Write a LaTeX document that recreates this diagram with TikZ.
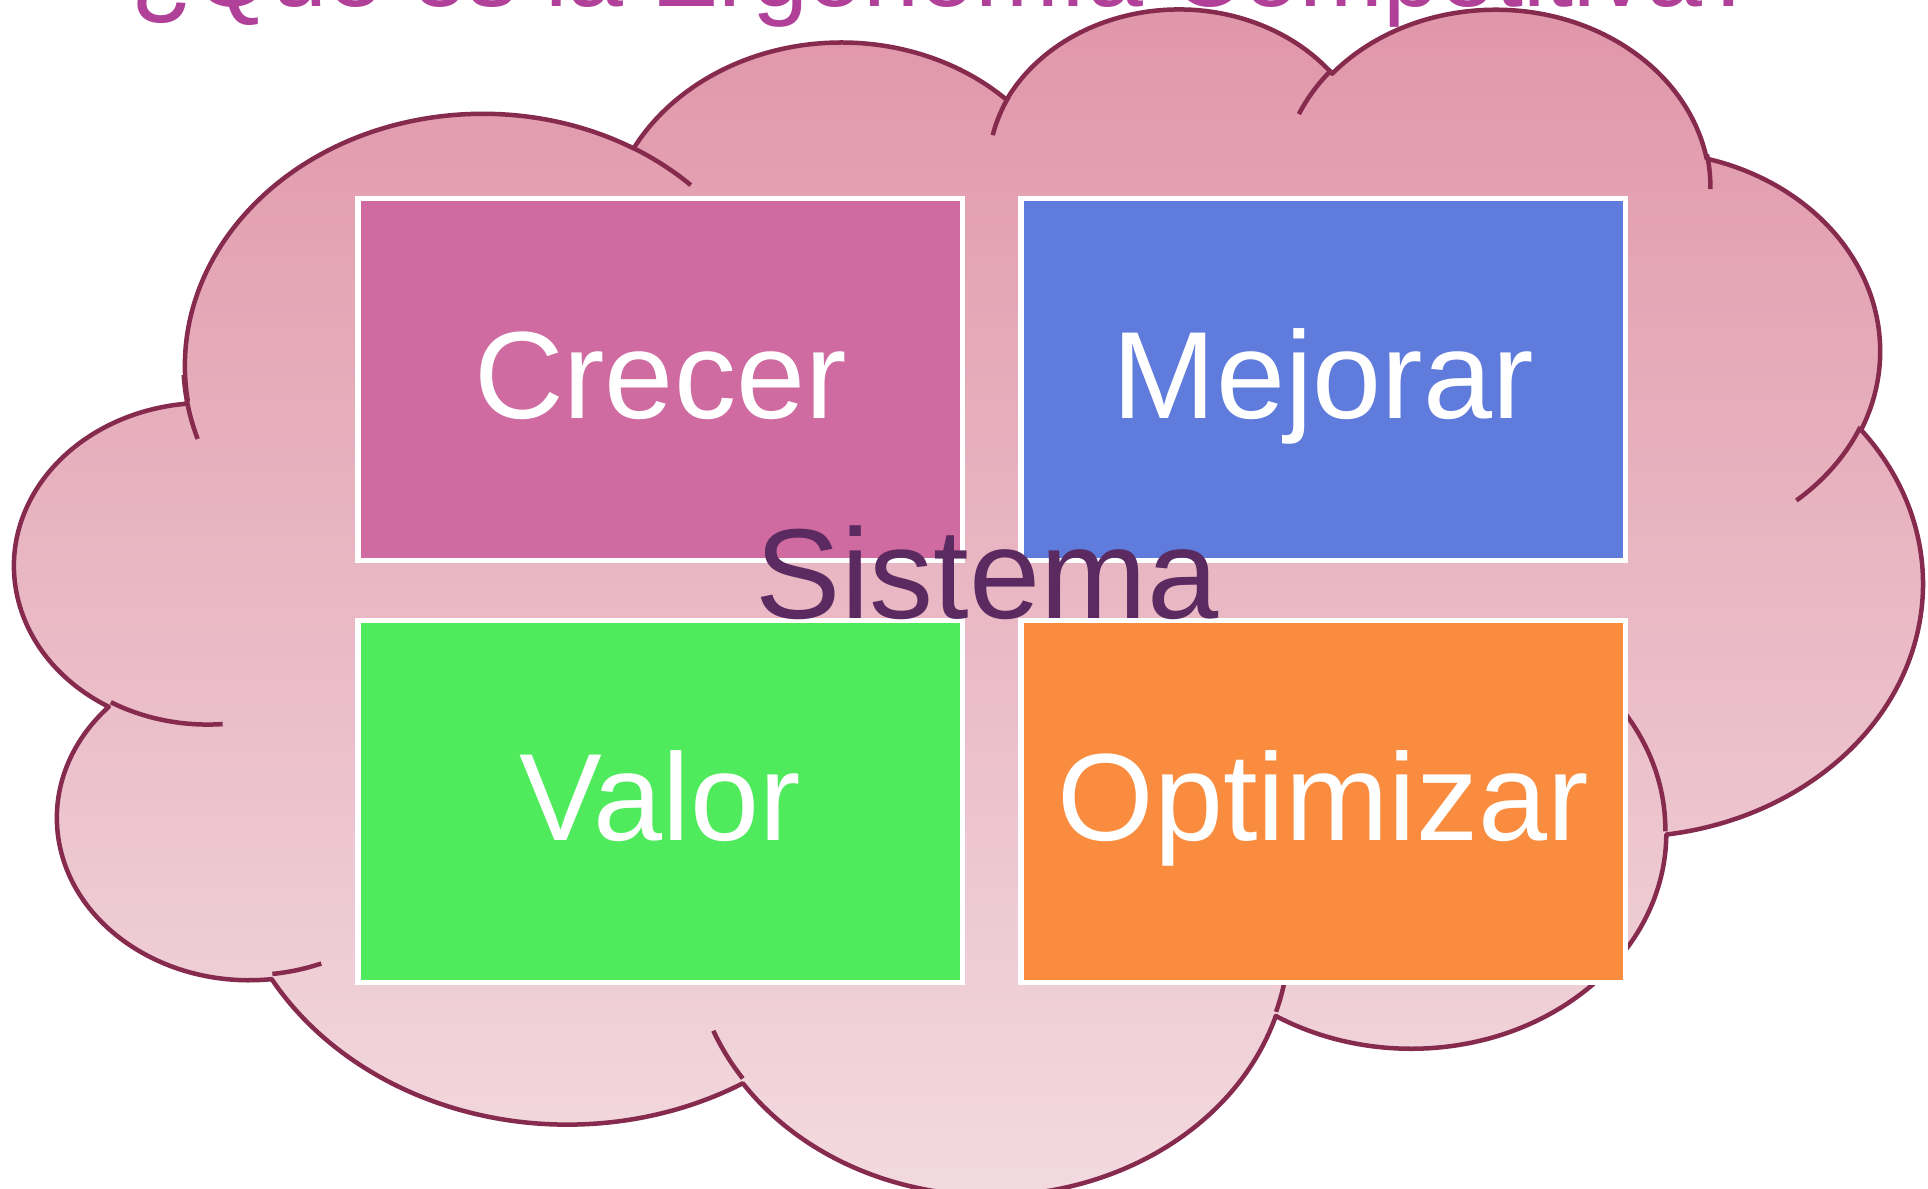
\documentclass[tikz,border=0pt]{standalone}
\usepackage{fontspec}
\setmainfont{Liberation Sans}
\definecolor{cloudline}{RGB}{134,42,78}
\definecolor{cloudtop}{RGB}{224,149,168}
\definecolor{cloudbot}{RGB}{243,220,225}
\definecolor{crecerc}{RGB}{207,107,161}
\definecolor{mejorarc}{RGB}{95,123,220}
\definecolor{valorc}{RGB}{79,235,92}
\definecolor{optimc}{RGB}{249,140,62}
\definecolor{sistc}{RGB}{90,42,96}
\definecolor{titlec}{RGB}{176,64,152}
% DrawingML arcTo: visual angles converted to ellipse parameter angles
\newcommand\ooarc[4]{%
  \pgfmathsetmacro\oaA{atan2(#1*sin(#3),#2*cos(#3))}%
  \pgfmathsetmacro\oaB{atan2(#1*sin(#3+#4),#2*cos(#3+#4))}%
  \pgfmathsetmacro\oaD{mod(\oaB-\oaA+720,360)}%
}
\newcommand\oarc[4]{\pgfextra{\ooarc{#1}{#2}{#3}{#4}} arc[start angle=\oaA, delta angle=\oaD, x radius=#1, y radius=#2]}
\tikzset{
  cloudstroke/.style={draw=cloudline, line width=0.045cm},
  box/.style={draw=white, line width=0.055cm, minimum width=6.04cm, minimum height=3.615cm,
    inner sep=0pt, text=white, font=\fontsize{35.3}{40}\selectfont, text height=0.77cm, text depth=0cm},
}
\begin{document}
\begin{tikzpicture}[x=0.01cm, y=-0.01cm]
\useasboundingbox (0,0) rectangle (1928,1189);
\clip (0,0) rectangle (1928,1189);
\fill[white] (0,0) rectangle (1928,1189);

\begin{scope}[shift={(0.155cm,-0.056cm)}, x=0.4411cm, y=-0.2743cm]
\path[cloudstroke, line join=round, top color=cloudtop, bottom color=cloudbot]
  (3.900,14.370)
  \oarc{6.753}{9.190}{-190.48748}{123.78053}
  \oarc{5.333}{7.267}{-144.10238}{89.94523}
  \oarc{4.365}{5.945}{-145.80792}{99.72302}
  \oarc{4.857}{6.595}{-130.98607}{117.24173}
  \oarc{5.333}{7.273}{-78.70888}{109.02692}
  \oarc{6.775}{9.220}{-46.26725}{130.26900}
  \oarc{5.785}{7.867}{0.62502}{114.03333}
  \oarc{6.752}{9.215}{22.45160}{115.17255}
  \oarc{7.720}{10.543}{66.24263}{75.71102}
  \oarc{4.360}{5.918}{-274.94208}{146.73557}
  \oarc{4.345}{5.945}{-246.82850}{152.51885}
  -- cycle;
\path[cloudstroke]
  (4.693,26.177) \oarc{4.345}{5.945}{86.74200}{26.42950}
  (6.928,34.899) \oarc{4.360}{5.918}{73.61047}{11.44747}
  (16.478,39.090) \oarc{6.752}{9.215}{137.62415}{14.08110}
  (28.827,34.751) \oarc{6.752}{9.215}{6.45327}{15.99835}
  (34.129,22.954) \oarc{5.785}{7.867}{-70.29235}{70.91737}
  (41.798,15.354) \oarc{5.333}{7.273}{30.31803}{27.75150}
  (38.324,5.426) \oarc{4.857}{6.595}{-13.74433}{14.85890}
  (29.078,3.952) \oarc{4.857}{6.595}{-149.18145}{18.19692}
  (22.141,4.720) \oarc{4.365}{5.945}{-163.49427}{17.68635}
  (14.000,5.192) \oarc{6.753}{9.190}{-66.70695}{12.31935}
  (4.127,15.789) \oarc{6.753}{9.190}{156.31977}{19.51485};
\end{scope}

\node[box, fill=crecerc] (crecer) at (660.25,379.5) {Crecer};
\node[box, fill=mejorarc] (mejorar) at (1323.25,379.5) {Mejorar};
\node[box, fill=valorc] (valor) at (660.25,801.5) {Valor};
\node[box, fill=optimc] (optimizar) at (1323.25,801.5) {Optimizar};

\node[font=\fontsize{36.4}{40}\selectfont, text=sistc, anchor=base, inner sep=0pt] (sistema) at (987,619) {Sistema};

\node[font=\fontsize{28.6}{32}\selectfont, text=titlec, anchor=base west, inner sep=0pt] (title) at (131,7) {¿Qué es la Ergonomía Competitiva?};
\end{tikzpicture}
\end{document}
